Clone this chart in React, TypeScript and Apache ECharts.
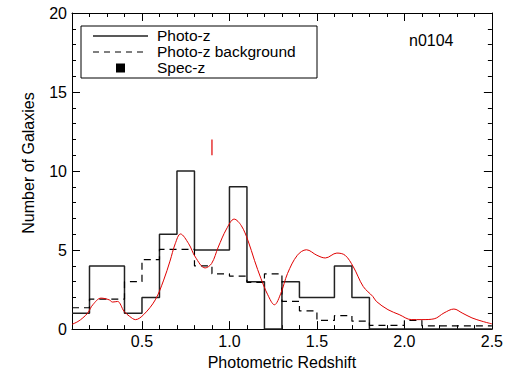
import React, { useEffect, useRef } from "react";
import * as echarts from "echarts";

// Histogram bins (left edges, width 0.1)
const binStarts = [
  0.1, 0.2, 0.3, 0.4, 0.5, 0.6, 0.7, 0.8, 0.9, 1.0, 1.1, 1.2,
  1.3, 1.4, 1.5, 1.6, 1.7, 1.8, 1.9, 2.0, 2.1, 2.2, 2.3, 2.4,
];
const BIN_WIDTH = 0.1;

// Photo-z counts per bin
const photoZCounts = [
  1, 4, 4, 1, 2, 6, 10, 5, 5, 9, 3, 0,
  3, 2, 2, 4, 2, 0, 0, 0, 0, 0, 0, 0,
];

// Photo-z background counts per bin
const backgroundCounts = [
  1.35, 1.9, 1.9, 3.0, 4.4, 5.05, 5.05, 4.0, 3.5, 3.35, 2.95, 3.5,
  1.75, 1.15, 0.55, 0.85, 0.5, 0.23, 0.23, 0.55, 0.2, 0.2, 0.2, 0.2,
];

// Summed redshift probability curve
const curveZ = [
  0.1, 0.134, 0.162, 0.19, 0.219, 0.266, 0.313, 0.332, 0.36, 0.398, 0.43, 0.463,
  0.51, 0.576, 0.624, 0.66, 0.69, 0.72, 0.767, 0.805, 0.861, 0.898, 0.936, 0.983,
  1.027, 1.068, 1.106, 1.143, 1.18, 1.219, 1.257, 1.294, 1.332, 1.388, 1.44, 1.5,
  1.548, 1.614, 1.661, 1.708, 1.765, 1.82, 1.84, 1.906, 1.97, 2.04, 2.1, 2.17,
  2.226, 2.283, 2.33, 2.386, 2.443, 2.5,
];
const curveN = [
  0.3, 0.48, 0.71, 1.02, 1.54, 1.96, 1.85, 1.71, 1.75, 1.12, 0.8, 0.6,
  0.92, 1.85, 3.1, 4.3, 5.4, 6.02, 5.4, 4.56, 3.87, 4.15, 5.19, 6.33,
  6.96, 6.54, 5.6, 4.35, 3.2, 2.17, 1.54, 2.27, 3.52, 4.67, 5.02, 4.67,
  4.5, 4.81, 4.67, 3.94, 2.69, 2.06, 1.75, 1.23, 0.92, 0.6, 0.6, 0.65,
  1.02, 1.27, 1.02, 0.71, 0.5, 0.33,
];

// Spectroscopic redshift marker
const specZ = [0.9];
const specZSpan = [11, 12];

// Axis ticks
const xMajorTicks = [0.5, 1.0, 1.5, 2.0, 2.5];
const xMinorTicks = [
  0.1, 0.2, 0.3, 0.4, 0.6, 0.7, 0.8, 0.9, 1.1, 1.2, 1.3, 1.4,
  1.6, 1.7, 1.8, 1.9, 2.1, 2.2, 2.3, 2.4,
];
const yTicks = [0, 5, 10, 15, 20];

const fieldName = "n0104";
const legendLabels = ["Photo-z", "Photo-z background", "Spec-z"];

const FONT = "'Liberation Sans', Arial, Helvetica, sans-serif";

function stepPoints(starts: number[], values: number[]) {
  const pts: number[][] = [];
  starts.forEach((lo, i) => {
    pts.push([lo, values[i]]);
    pts.push([+(lo + BIN_WIDTH).toFixed(3), values[i]]);
  });
  return pts;
}

export default function App() {
  const ref = useRef<HTMLDivElement>(null);

  useEffect(() => {
    if (!ref.current) return;
    const chart = echarts.init(ref.current, undefined, { renderer: "svg" });

    const axisLineStyle = { color: "#000", width: 1 };
    const baseX = {
      type: "value" as const,
      min: 0.1,
      max: 2.5,
      splitLine: { show: false },
    };
    const baseY = {
      type: "value" as const,
      min: 0,
      max: 20,
      interval: 5,
      splitLine: { show: false },
    };

    const legendX = 81;
    const legendY = 26;
    const rowGap = 16;

    chart.setOption({
      animation: false,
      backgroundColor: "#fff",
      grid: { left: 72, right: 9, top: 13, bottom: 42, containLabel: false },
      xAxis: [
        {
          ...baseX,
          position: "bottom",
          axisLine: { show: true, lineStyle: axisLineStyle },
          axisTick: {
            show: true,
            inside: true,
            length: 8,
            customValues: xMajorTicks,
            lineStyle: axisLineStyle,
          },
          axisLabel: {
            show: true,
            customValues: xMajorTicks,
            formatter: (v: number) => v.toFixed(1),
            color: "#000",
            fontSize: 16,
            fontFamily: FONT,
            margin: 4,
          },
          name: "Photometric Redshift",
          nameLocation: "middle",
          nameGap: 24,
          nameTextStyle: { color: "#000", fontSize: 16, fontFamily: FONT },
        },
        {
          ...baseX,
          position: "bottom",
          axisLine: { show: false },
          axisTick: {
            show: true,
            inside: true,
            length: 4,
            customValues: xMinorTicks,
            lineStyle: axisLineStyle,
          },
          axisLabel: { show: false },
        },
        {
          ...baseX,
          position: "top",
          axisLine: { show: true, lineStyle: axisLineStyle },
          axisTick: {
            show: true,
            inside: true,
            length: 8,
            customValues: xMajorTicks,
            lineStyle: axisLineStyle,
          },
          axisLabel: { show: false },
        },
        {
          ...baseX,
          position: "top",
          axisLine: { show: false },
          axisTick: {
            show: true,
            inside: true,
            length: 4,
            customValues: xMinorTicks,
            lineStyle: axisLineStyle,
          },
          axisLabel: { show: false },
        },
      ],
      yAxis: [
        {
          ...baseY,
          position: "left",
          axisLine: { show: true, lineStyle: axisLineStyle },
          axisTick: { show: true, inside: true, length: 8, lineStyle: axisLineStyle },
          minorTick: { show: true, splitNumber: 5, length: 4, lineStyle: axisLineStyle },
          axisLabel: {
            show: true,
            customValues: yTicks,
            color: "#000",
            fontSize: 16,
            fontFamily: FONT,
            margin: 5,
          },
        },
        {
          ...baseY,
          position: "right",
          axisLine: { show: true, lineStyle: axisLineStyle },
          axisTick: { show: true, inside: true, length: 8, lineStyle: axisLineStyle },
          minorTick: { show: true, splitNumber: 5, length: 4, lineStyle: axisLineStyle },
          axisLabel: { show: false },
        },
      ],
      series: [
        {
          name: legendLabels[0],
          type: "line",
          xAxisIndex: 0,
          yAxisIndex: 0,
          data: stepPoints(binStarts, photoZCounts),
          symbol: "none",
          lineStyle: { color: "#222", width: 1.5 },
          z: 3,
        },
        {
          name: legendLabels[1],
          type: "line",
          xAxisIndex: 0,
          yAxisIndex: 0,
          data: stepPoints(binStarts, backgroundCounts),
          symbol: "none",
          lineStyle: { color: "#000", width: 1.2, type: [7, 5] },
          z: 3,
        },
        {
          name: "P(z)",
          type: "line",
          xAxisIndex: 0,
          yAxisIndex: 0,
          data: curveZ.map((z, i) => [z, curveN[i]]),
          symbol: "none",
          smooth: 0.35,
          lineStyle: { color: "#e00000", width: 1 },
          z: 4,
        },
        {
          name: legendLabels[2],
          type: "line",
          xAxisIndex: 0,
          yAxisIndex: 0,
          data: [
            [specZ[0], specZSpan[0]],
            [specZ[0], specZSpan[1]],
          ],
          symbol: "none",
          lineStyle: { color: "#e00000", width: 1.2 },
          z: 4,
        },
      ],
      graphic: [
        {
          type: "text",
          x: 28,
          y: 163,
          rotation: Math.PI / 2,
          style: {
            text: "Number of Galaxies",
            fill: "#000",
            fontSize: 16,
            fontFamily: FONT,
            align: "center",
            verticalAlign: "middle",
          },
        },
        {
          type: "text",
          x: 409,
          y: 40,
          style: {
            text: fieldName,
            fill: "#000",
            fontSize: 16,
            fontFamily: FONT,
            align: "left",
            verticalAlign: "middle",
          },
        },
        {
          type: "group",
          x: legendX,
          y: legendY,
          children: [
            {
              type: "rect",
              shape: { x: 0, y: 0, width: 236, height: 52 },
              style: { fill: "#fff", stroke: "#000", lineWidth: 1 },
            },
            {
              type: "line",
              shape: { x1: 12, y1: 10, x2: 67, y2: 10 },
              style: { stroke: "#222", lineWidth: 1.5 },
            },
            {
              type: "line",
              shape: { x1: 12, y1: 10 + rowGap, x2: 63, y2: 10 + rowGap },
              style: { stroke: "#000", lineWidth: 1.2, lineDash: [6, 5] },
            },
            {
              type: "rect",
              shape: { x: 35, y: 37.5, width: 9, height: 9 },
              style: { fill: "#000" },
            },
            ...legendLabels.map((label, i) => ({
              type: "text",
              x: 76,
              y: 9 + i * rowGap,
              style: {
                text: label,
                fill: "#000",
                fontSize: 15.5,
                fontFamily: FONT,
                align: "left",
                verticalAlign: "middle",
              },
            })),
          ],
        },
      ],
    });

    return () => chart.dispose();
  }, []);

  return (
    <div
      ref={ref}
      style={{ position: "absolute", left: 0, top: 0, width: 506, height: 375 }}
    />
  );
}
